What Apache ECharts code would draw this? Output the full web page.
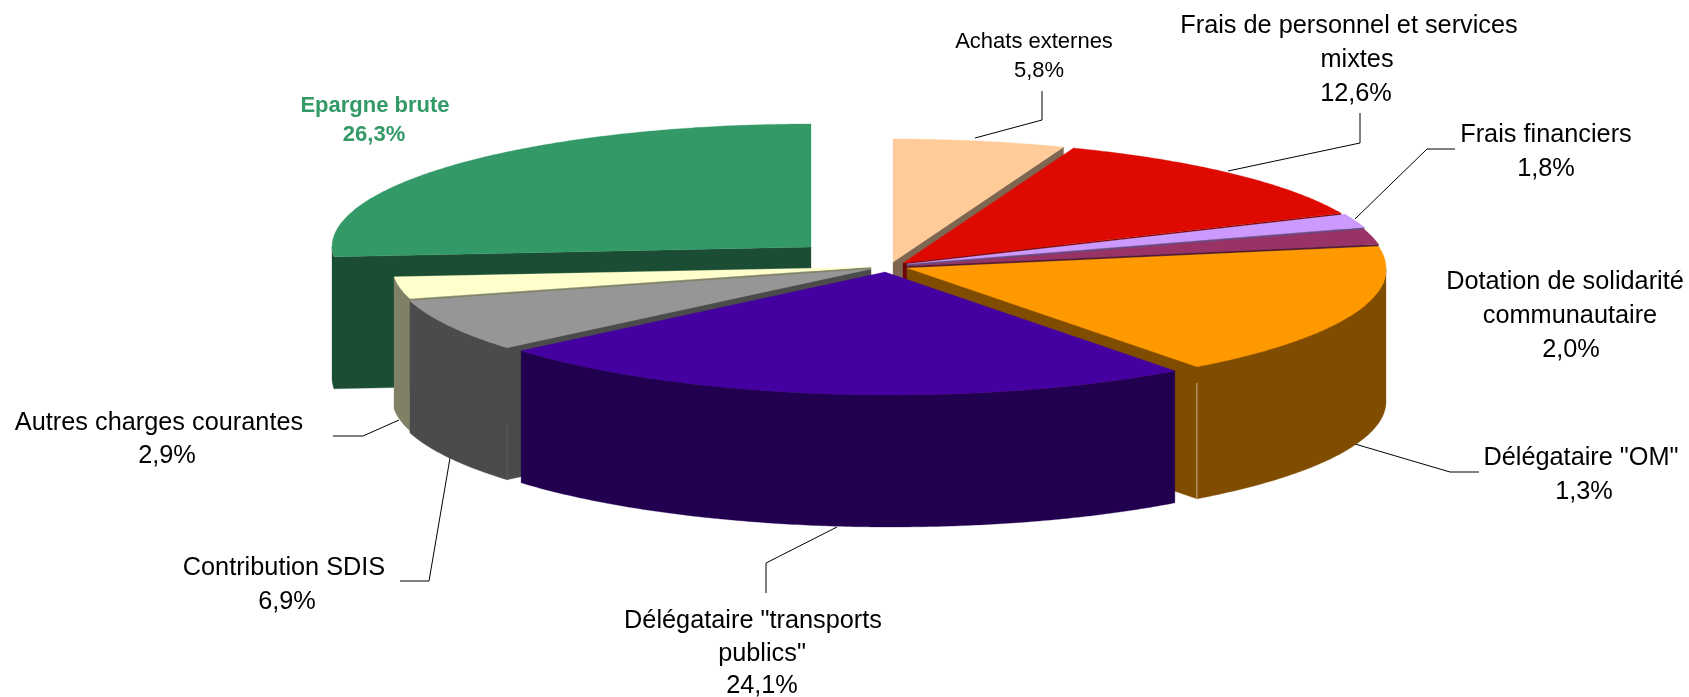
<!DOCTYPE html>
<html>
<head>
<meta charset="utf-8">
<style>html,body{margin:0;padding:0;background:#fff}#c{width:1689px;height:697px}</style>
<script src="https://cdn.jsdelivr.net/npm/echarts@6/dist/echarts.min.js"></script>
</head>
<body>
<div id="c"></div>
<script>
// ---- data (clockwise from 12 o'clock) ----
const sliceNames = ['Achats externes','Frais de personnel et services mixtes','Frais financiers','Dotation de solidarité communautaire','Délégataire "OM"','Délégataire "transports publics"','Contribution SDIS','Autres charges courantes','Epargne brute'];
const sliceValues = [5.8,12.6,1.8,2.0,17.7,24.1,6.9,2.9,26.3];
const labelLines = [['Achats externes'],['Frais de personnel et services','mixtes'],['Frais financiers'],['Dotation de solidarité','communautaire'],['Délégataire "OM"'],['Délégataire "transports','publics"'],['Contribution SDIS'],['Autres charges courantes'],['Epargne brute']];
const labelPercents = ['5,8%','12,6%','1,8%','2,0%','1,3%','24,1%','6,9%','2,9%','26,3%'];
const topColors = ['#FFCC99','#DE0A02','#CC99FF','#993366','#FF9900','#4400A0','#969696','#FFFFCC','#339966'];
const sideColors = ['#7F6650','#6F0501','#664D80','#4D1A33','#804D00','#220050','#4B4B4B','#808066','#1A4D33'];

// ---- layout ----
const RX = 479, RY = 123, DEPTH = 132, SKEW = 0.05;
const apexX = [893,903,907,907,907,885,871,871,811];
const apexY = [262,263,264,266,268,272,269,267,247];
const paintOrder = [8,0,1,2,3,4,7,6,5];
const labelX = [[1034,1039],[1349,1357,1356],[1546,1546],[1565,1570,1571],[1581,1584],[753,762,762],[284,287],[159,167],[375,374]];
const labelY = [[42,71],[26,60,94],[135,169],[282,316,350],[458,492],[621,654,686],[568,602],[423,456],[106,135]];
const labelSize = [22,25.3,25.3,25.3,25.3,25.3,25.3,25.3,22];
const leaders = [
  [[1042,91],[1042,120],[975,138]],
  [[1360,113],[1360,143],[1228,171]],
  [[1455,149],[1427,149],[1355,219]],
  null,
  [[1479,472],[1450,472],[1355,444]],
  [[766,593],[766,563],[837,527]],
  [[400,581],[429,581],[450,458]],
  [[333,436],[363,436],[399,420]],
  null
];
const seamEdge = [null,null,null,null,'end',null,'start',null,null];
const seamFrom = [0,0,0,0,16,0,76,0,0];
const seamColor = [null,null,null,null,'#C9AE86',null,'#5A5A5A',null,null];

const total = sliceValues.reduce((a, b) => a + b, 0);
const rad = d => d * Math.PI / 180;

function renderSlice(params, api) {
  const i = api.value(0);
  let sum = 0;
  for (let k = 0; k < i; k++) sum += sliceValues[k];
  const a = sum / total * 360, b = (sum + api.value(1)) / total * 360;
  const cx = apexX[i], cy = apexY[i];
  const rim = (t, dy) => {
    const oy = -RY * Math.cos(rad(t));
    return [cx + RX * Math.sin(rad(t)) + SKEW * Math.max(0, oy), cy + oy + (dy || 0)];
  };
  const arc = (s, e, dy) => {
    const n = Math.max(2, Math.ceil(Math.abs(e - s) * 2)), p = [];
    for (let k = 0; k <= n; k++) p.push(rim(s + (e - s) * k / n, dy));
    return p;
  };
  const rank = paintOrder.indexOf(i);
  const side = sideColors[i], top = topColors[i];
  const poly = (pts, fill, z) => ({
    type: 'polygon', shape: { points: pts }, silent: true, z2: rank * 10 + z,
    style: { fill: fill, stroke: fill, lineWidth: 0.3 }
  });
  const children = [];
  // radial cut faces that look toward the viewer
  if (Math.sin(rad(a)) < 0) children.push(poly([[cx, cy], rim(a), rim(a, DEPTH), [cx, cy + DEPTH]], side, 0));
  if (Math.sin(rad(b)) > 0) children.push(poly([[cx, cy], rim(b), rim(b, DEPTH), [cx, cy + DEPTH]], side, 0));
  // outer wall, front half only
  const ws = Math.max(a, 90), we = Math.min(b, 270);
  if (we > ws) children.push(poly(arc(ws, we, 0).concat(arc(we, ws, DEPTH)), side, 1));
  // top
  children.push(poly([[cx, cy]].concat(arc(a, b, 0)), top, 2));
  // faint seam between wall and cut face
  if (seamEdge[i]) {
    const e = seamEdge[i] === 'end' ? b : a;
    children.push({
      type: 'polyline', silent: true, z2: rank * 10 + 3,
      shape: { points: [rim(e, seamFrom[i]), rim(e, DEPTH)] },
      style: { fill: null, stroke: seamColor[i], lineWidth: 1 }
    });
  }
  return { type: 'group', children: children };
}

function renderLabel(params, api) {
  const i = api.value(0);
  const lines = labelLines[i].concat([labelPercents[i]]);
  const isLead = i === 8;
  const children = lines.map((t, k) => ({
    type: 'text', silent: true,
    style: {
      text: t, x: labelX[i][k], y: labelY[i][k], align: 'center', verticalAlign: 'middle',
      fill: isLead ? '#339966' : '#000000',
      font: (isLead ? 'bold ' : '') + labelSize[i] + 'px "Liberation Sans", Arial, sans-serif'
    }
  }));
  if (leaders[i]) children.push({
    type: 'polyline', silent: true, shape: { points: leaders[i] },
    style: { fill: null, stroke: '#000000', lineWidth: 1 }
  });
  return { type: 'group', children: children };
}

const chart = echarts.init(document.getElementById('c'), null, { renderer: 'canvas' });
chart.setOption({
  animation: false,
  backgroundColor: '#ffffff',
  tooltip: { show: false },
  series: [
    { type: 'custom', name: 'Libellés', coordinateSystem: 'none', z: 1, silent: true,
      renderItem: renderLabel, data: sliceValues.map((v, i) => [i, v]) },
    { type: 'custom', name: 'Répartition', coordinateSystem: 'none', z: 2, silent: true,
      renderItem: renderSlice, data: sliceValues.map((v, i) => ({ name: sliceNames[i], value: [i, v] })) }
  ]
});
</script>
</body>
</html>
